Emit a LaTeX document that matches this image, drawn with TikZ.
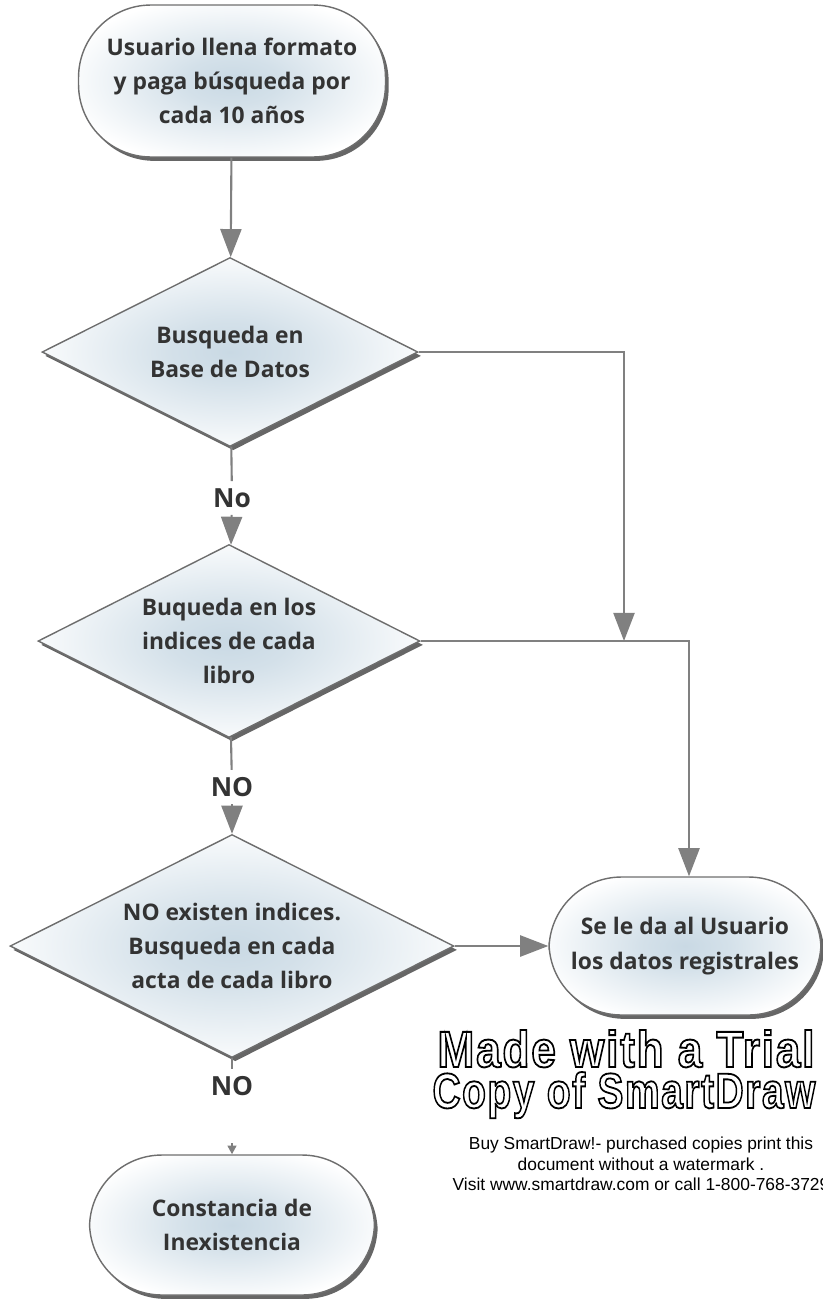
\documentclass[tikz,border=0pt]{standalone}
\usepackage{fontspec}
\setmainfont{Open Sans}
\newfontfamily\wmfont{Liberation Sans}
\usetikzlibrary{shapes.geometric,shadows,arrows.meta}

\definecolor{linegray}{HTML}{808080}
\definecolor{edgegray}{HTML}{6E6E6E}
\definecolor{textgray}{HTML}{333333}
\definecolor{boxblue}{HTML}{C9D9E4}

\pgfdeclareradialshading{boxshade}{\pgfpoint{0bp}{0bp}}{color(0bp)=(boxblue); color(8bp)=(boxblue!80!white); color(28bp)=(white); color(50bp)=(white)}
\newcommand{\hollow}[1]{\special{pdf:literal direct 1 Tr 1.1 w}#1\special{pdf:literal direct 0 Tr}}

\tikzset{
  box/.style={draw=edgegray, line width=0.8pt, shading=boxshade, text=textgray, align=center,
    font=\fontsize{13}{19.5}\selectfont\bfseries,
    drop shadow={shadow xshift=1.8pt, shadow yshift=-2.2pt, opacity=0.6, fill=black}},
  term/.style={box, rectangle, rounded corners=1.45cm},
  decision/.style={box, diamond, aspect=2, inner sep=0pt},
  flow/.style={draw=linegray, line width=1.2pt, -{Triangle[length=16pt,width=12pt]}},
  answer/.style={text=textgray, font=\fontsize{15}{18}\selectfont\bfseries, inner sep=4pt},
}

\begin{document}
\begin{tikzpicture}[x=0.02cm,y=-0.02cm]
  \useasboundingbox (0,0) rectangle (822,1305);

  \begin{scope}[every node/.style={term}]
    \node[minimum width=6.14cm, minimum height=3.04cm] (inicio) at (232,81)
      {Usuario llena formato\\y paga búsqueda por\\cada 10 años};
    \node[minimum width=5.44cm, minimum height=2.76cm] (datos) at (685,946)
      {Se le da al Usuario\\los datos registrales};
    \node[minimum width=5.7cm, minimum height=2.8cm] (constancia) at (232,1225)
      {Constancia de\\Inexistencia};
  \end{scope}

  \begin{scope}[every node/.style={decision}]
    \node[minimum width=7.52cm, minimum height=3.78cm] (base) at (230,352)
      {Busqueda en\\Base de Datos};
    \node[minimum width=7.64cm, minimum height=3.86cm] (indices) at (229,641)
      {Buqueda en los\\indices de cada\\libro};
    \node[minimum width=8.88cm, minimum height=4.46cm] (actas) at (232,946)
      {NO existen indices.\\Busqueda en cada\\acta de cada libro};
  \end{scope}

  \begin{scope}[every node/.style={answer}]
    \node (no1) at (232,498) {No};
    \node (no2) at (232,787) {NO};
    \node (no3) at (232,1086) {NO};
  \end{scope}

  \coordinate (j1) at (624,641);
  \coordinate (j2) at (689,641);
  \coordinate (c3) at (232,1143);

  \begin{scope}[every edge/.style={flow}]
    \path (inicio) edge (base);
    \path (base)   edge[-] (no1);
    \path (no1)    edge (indices);
    \path (indices) edge[-] (no2);
    \path (no2)    edge (actas);
    \path (actas)  edge[-] (no3);
    \path (actas.east) edge (datos.west);
    \path (c3) edge[-{Triangle[length=5pt,width=5pt]}] (constancia);
  \end{scope}
  \draw[flow] (base.east) -| (j1);
  \draw[flow] (indices.east) -- (j2) -- (j2 |- datos.north);

  % marca de agua
  \node[inner sep=0, anchor=base] (marca1) at (626,1067)
    {\resizebox{7.54cm}{0.74cm}{\wmfont\bfseries\fontsize{30}{30}\selectfont\addfontfeatures{LetterSpace=4}\hollow{Made with a Trial}}};
  \node[inner sep=0, anchor=base] (marca2) at (624,1108)
    {\resizebox{7.66cm}{0.72cm}{\wmfont\bfseries\fontsize{30}{30}\selectfont\addfontfeatures{LetterSpace=4}\hollow{Copy of SmartDraw}}};
  \node[inner sep=0, align=center, font=\wmfont\fontsize{9.9}{11.6}\selectfont] (aviso) at (641,1164)
    {Buy SmartDraw!- purchased copies print this\\document without a watermark .\\Visit www.smartdraw.com or call 1-800-768-3729};
\end{tikzpicture}
\end{document}
